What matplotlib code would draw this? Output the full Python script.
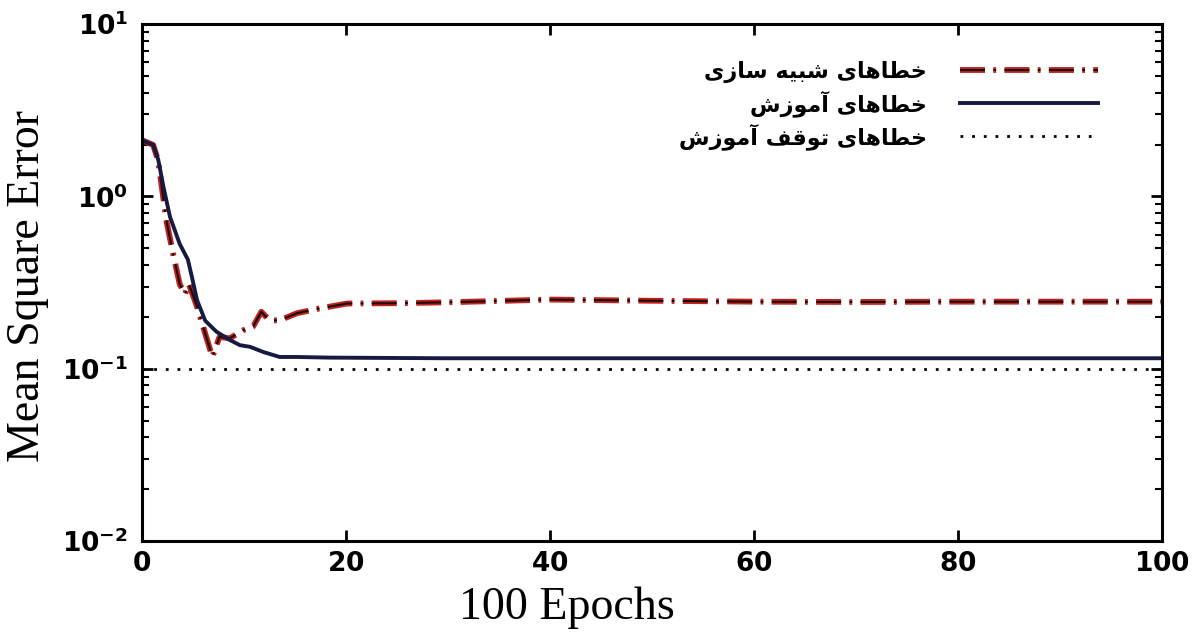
# Mean square error per epoch: simulation, training and training-stop level

import unicodedata
import matplotlib
matplotlib.use("Agg")
import matplotlib.pyplot as plt
from matplotlib.ticker import LogLocator, NullFormatter

# curves
train_epoch = [0, 1.1, 1.6, 2.1, 2.75, 3.7, 4.5, 4.9, 5.4, 6.2, 7.3, 8.6, 9.6,
               10.6, 11.9, 13.5, 15.2, 18.4, 30, 50, 70, 100]
train_err = [2.12, 1.99, 1.63, 1.14, 0.76, 0.53, 0.43, 0.34, 0.25, 0.19, 0.164,
             0.147, 0.137, 0.134, 0.125, 0.117, 0.117, 0.116, 0.115, 0.115,
             0.115, 0.115]

sim_epoch = [0, 1.1, 1.6, 2.4, 3.1, 3.7, 4.2, 4.6, 5.4, 6.2, 6.7, 6.9, 7.6, 8.6,
             9.9, 10.9, 11.7, 12.5, 13.5, 15.2, 17.1, 20.1, 25, 30, 40, 50, 60,
             70, 80, 90, 100]
sim_err = [2.12, 1.99, 1.6, 0.72, 0.45, 0.31, 0.27, 0.31, 0.229, 0.16, 0.128,
           0.117, 0.153, 0.15, 0.167, 0.176, 0.214, 0.191, 0.191, 0.21, 0.222,
           0.239, 0.240, 0.243, 0.252, 0.248, 0.245, 0.244, 0.245, 0.245, 0.245]

stop_epoch = [0, 100]
stop_err = [0.1, 0.1]

labels = ["خطاهای شبیه سازی", "خطاهای آموزش", "خطاهای توقف آموزش"]
x_ticks = [0, 20, 40, 60, 80, 100]
y_ticks = [1e-2, 1e-1, 1e0, 1e1]
y_tick_labels = [r"$\mathbf{10^{-2}}$", r"$\mathbf{10^{-1}}$",
                 r"$\mathbf{10^{0}}$", r"$\mathbf{10^{1}}$"]

# matplotlib has no arabic shaping, so pick the presentation forms by hand
# (isolated, final, initial, medial); None = letter does not join forward
FORMS = {
    "ا": ("\uFE8D", "\uFE8E", None, None),
    "آ": ("\uFE81", "\uFE82", None, None),
    "ب": ("\uFE8F", "\uFE90", "\uFE91", "\uFE92"),
    "ت": ("\uFE95", "\uFE96", "\uFE97", "\uFE98"),
    "خ": ("\uFEA5", "\uFEA6", "\uFEA7", "\uFEA8"),
    "ز": ("\uFEAF", "\uFEB0", None, None),
    "س": ("\uFEB1", "\uFEB2", "\uFEB3", "\uFEB4"),
    "ش": ("\uFEB5", "\uFEB6", "\uFEB7", "\uFEB8"),
    "ط": ("\uFEC1", "\uFEC2", "\uFEC3", "\uFEC4"),
    "ف": ("\uFED1", "\uFED2", "\uFED3", "\uFED4"),
    "ق": ("\uFED5", "\uFED6", "\uFED7", "\uFED8"),
    "م": ("\uFEE1", "\uFEE2", "\uFEE3", "\uFEE4"),
    "ه": ("\uFEE9", "\uFEEA", "\uFEEB", "\uFEEC"),
    "و": ("\uFEED", "\uFEEE", None, None),
    "\u06CC": ("\uFEEF", "\uFEF0", "\uFEF3", "\uFEF4"),
    "\u064A": ("\uFEEF", "\uFEF0", "\uFEF3", "\uFEF4"),
}


def shape(text):
    text = unicodedata.normalize("NFC", text)
    out = []
    for i, ch in enumerate(text):
        if ch not in FORMS:
            out.append(ch)
            continue
        prev = text[i - 1] if i > 0 else ""
        nxt = text[i + 1] if i + 1 < len(text) else ""
        joins_prev = prev in FORMS and FORMS[prev][2] is not None
        joins_next = FORMS[ch][2] is not None and nxt in FORMS
        iso, fin, ini, med = FORMS[ch]
        if joins_prev and joins_next:
            out.append(med)
        elif joins_prev:
            out.append(fin)
        elif joins_next:
            out.append(ini)
        else:
            out.append(iso)
    # right to left -> draw reversed
    return "".join(reversed(out))


plt.rcParams["mathtext.fontset"] = "custom"
plt.rcParams["mathtext.bf"] = "DejaVu Sans:bold"
plt.rcParams["mathtext.rm"] = "DejaVu Sans"
plt.rcParams["lines.scale_dashes"] = False

fig = plt.figure(figsize=(11.96, 6.35), dpi=100)
ax = fig.add_axes([0.1187, 0.148, 0.8529, 0.814])

sim_dash = (0, (18, 6, 2, 6))
red, = ax.plot(sim_epoch, sim_err, color="#c0221c", lw=4.2, linestyle=sim_dash)
core, = ax.plot(sim_epoch, sim_err, color="#1a0a08", lw=1.5, linestyle=sim_dash)
blue, = ax.plot(train_epoch, train_err, color="#161a40", lw=2.8)
stop, = ax.plot(stop_epoch, stop_err, color="black", lw=2.0, linestyle=(0, (2, 6.4)))

ax.set_yscale("log")
ax.set_xlim(0, 100)
ax.set_ylim(1e-2, 1e1)
ax.set_xticks(x_ticks)
ax.set_xticklabels([r"$\mathbf{%d}$" % t for t in x_ticks])
ax.set_yticks(y_ticks)
ax.set_yticklabels(y_tick_labels)
ax.yaxis.set_minor_locator(LogLocator(base=10, subs=range(2, 10)))
ax.yaxis.set_minor_formatter(NullFormatter())
ax.tick_params(which="both", direction="in", top=True, right=True, labelsize=19)
ax.tick_params(which="major", length=8, width=2)
ax.tick_params(which="minor", length=5, width=1.5)
ax.tick_params(axis="y", pad=10)
ax.tick_params(axis="x", pad=7)
for sp in ax.spines.values():
    sp.set_linewidth(2.2)

ax.set_ylabel("Mean Square Error", family="Liberation Serif", fontsize=33)
ax.yaxis.set_label_coords(-0.091, 0.493)
ax.set_xlabel("100 Epochs", family="Liberation Serif", fontsize=33)
ax.xaxis.set_label_coords(0.4166, -0.088)

leg = ax.legend([(red, core), blue, stop], [shape(s) for s in labels],
                loc="upper right", bbox_to_anchor=(0.948, 0.95),
                frameon=False, markerfirst=False, borderpad=0,
                handlelength=6.2, handletextpad=1.5, labelspacing=0.3,
                prop={"family": "DejaVu Sans", "weight": "bold", "size": 16})

fig.savefig("out.png", dpi=100)
